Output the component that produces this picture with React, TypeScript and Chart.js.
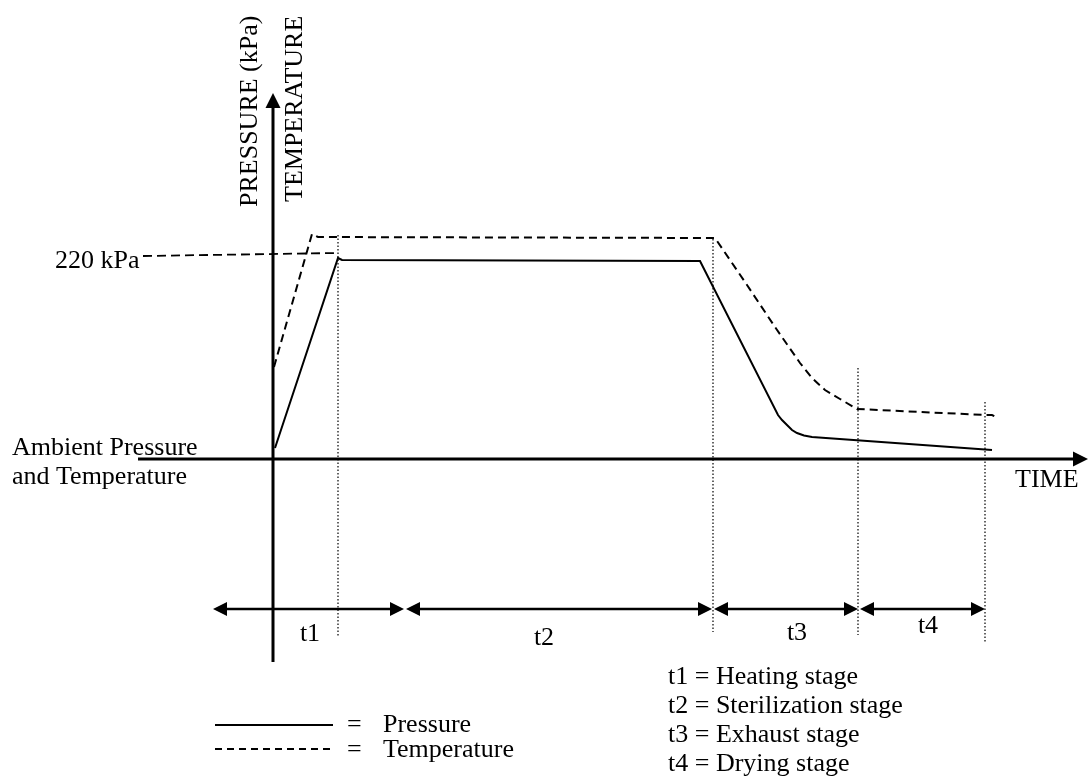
import React, { useEffect, useRef } from "react";
import { Chart, registerables } from "chart.js";

Chart.register(...registerables);

// ---- data (time units from the start of the cycle, level units above ambient) ----
const pressureTime = [2, 65, 69, 427, 505, 509, 514, 519, 524, 531, 539, 719];
const pressureLevel = [11, 201, 199, 198, 44, 39, 34, 29, 26, 23.5, 22, 9];

const temperatureTime = [1, 39, 45, 442, 474, 502, 527, 539, 552, 567, 584, 712, 719, 725];
const temperatureLevel = [92, 225, 222, 221, 174, 132, 96, 81, 69, 60, 50, 44, 44, 41];

const referenceTime = [-130, 64];
const referenceLevel = [203, 206];
const referenceLabel = "220 kPa";

const dividerTime = [65, 440, 585, 712];
const dividerTop = [224, 220, 91, 57];
const dividerBottom = [-178, -173, -176, -183];

const stageEdges = [-61, 132, 440, 586, 713];
const stageNames = ["t1", "t2", "t3", "t4"];
const stageDescriptions = ["Heating stage", "Sterilization stage", "Exhaust stage", "Drying stage"];

const axisTimeRange = [-135, 815];
const axisLevelRange = [-203, 366];

const seriesNames = ["Pressure", "Temperature"];

// ---- layout ----
const W = 1090;
const H = 780;
const FONT = "26px 'Liberation Serif', 'Times New Roman', serif";

const toPts = (xs: number[], ys: number[]) => xs.map((x, i) => ({ x, y: ys[i] }));

function head(ctx: CanvasRenderingContext2D, tx: number, ty: number, dx: number, dy: number, len: number, half: number) {
  const bx = tx - dx * len;
  const by = ty - dy * len;
  const px = -dy;
  const py = dx;
  ctx.beginPath();
  ctx.moveTo(tx, ty);
  ctx.lineTo(bx + px * half, by + py * half);
  ctx.lineTo(bx - px * half, by - py * half);
  ctx.closePath();
  ctx.fill();
}

const diagramPlugin = {
  id: "diagram",
  afterDatasetsDraw(chart: any) {
    const ctx: CanvasRenderingContext2D = chart.ctx;
    const xs = chart.scales.x;
    const ys = chart.scales.y;
    const X = (v: number) => xs.getPixelForValue(v);
    const Y = (v: number) => ys.getPixelForValue(v);
    ctx.save();
    ctx.fillStyle = "#000";
    ctx.strokeStyle = "#000";
    ctx.setLineDash([]);

    // vertical axis with arrow
    const x0 = X(0);
    ctx.lineWidth = 3;
    ctx.beginPath();
    ctx.moveTo(x0, Y(axisLevelRange[0]));
    ctx.lineTo(x0, Y(axisLevelRange[1]) + 12);
    ctx.stroke();
    head(ctx, x0, Y(axisLevelRange[1]), 0, -1, 15, 7.5);

    // horizontal time axis with arrow
    const y0 = Y(0);
    ctx.beginPath();
    ctx.moveTo(X(axisTimeRange[0]), y0);
    ctx.lineTo(X(axisTimeRange[1]) - 12, y0);
    ctx.stroke();
    head(ctx, X(axisTimeRange[1]), y0, 1, 0, 15, 7.5);

    // stage arrows
    const ya = Y(-150);
    ctx.lineWidth = 2.5;
    for (let i = 0; i < stageNames.length; i++) {
      const a = X(stageEdges[i]) + 1;
      const b = X(stageEdges[i + 1]) - 1;
      ctx.beginPath();
      ctx.moveTo(a + 10, ya);
      ctx.lineTo(b - 10, ya);
      ctx.stroke();
      head(ctx, a, ya, -1, 0, 14, 7);
      head(ctx, b, ya, 1, 0, 14, 7);
    }

    // texts
    ctx.font = FONT;
    ctx.textBaseline = "alphabetic";
    ctx.textAlign = "left";

    const stageLabelX = [310, 544, 797, 928];
    const stageLabelY = [641, 645, 640, 633];
    ctx.textAlign = "center";
    stageNames.forEach((s, i) => ctx.fillText(s, stageLabelX[i], stageLabelY[i]));
    ctx.textAlign = "left";

    ctx.fillText(referenceLabel, 55, 268);
    ctx.fillText("Ambient Pressure", 12, 455);
    ctx.fillText("and Temperature", 12, 484);
    ctx.fillText("TIME", 1015, 487);

    // rotated axis titles
    ctx.save();
    ctx.translate(257, 207);
    ctx.rotate(-Math.PI / 2);
    ctx.fillText("PRESSURE (kPa)", 0, 0);
    ctx.restore();
    ctx.save();
    ctx.translate(302, 202);
    ctx.rotate(-Math.PI / 2);
    ctx.fillText("TEMPERATURE", 0, 0);
    ctx.restore();

    // stage legend
    const legY = [684, 713, 742, 771];
    stageDescriptions.forEach((d, i) => {
      ctx.fillText(`${stageNames[i]} = ${d}`, 668, legY[i]);
    });

    // series legend
    ctx.lineWidth = 2;
    ctx.beginPath();
    ctx.moveTo(215, 725);
    ctx.lineTo(333, 725);
    ctx.stroke();
    ctx.setLineDash([7, 5]);
    ctx.beginPath();
    ctx.moveTo(215, 749);
    ctx.lineTo(333, 749);
    ctx.stroke();
    ctx.setLineDash([]);
    ctx.fillText("=", 347, 732);
    ctx.fillText(seriesNames[0], 383, 732);
    ctx.fillText("=", 347, 757);
    ctx.fillText(seriesNames[1], 383, 757);

    ctx.restore();
  },
};

export default function App() {
  const ref = useRef<HTMLCanvasElement | null>(null);
  useEffect(() => {
    if (!ref.current) return;
    const dividerSets = dividerTime.map((t, i) => ({
      data: [
        { x: t, y: dividerTop[i] },
        { x: t, y: dividerBottom[i] },
      ],
      borderColor: "#000",
      borderWidth: 1.2,
      borderDash: [1.5, 2],
      pointRadius: 0,
      showLine: true,
      fill: false,
    }));
    const chart = new Chart(ref.current, {
      type: "scatter",
      data: {
        datasets: [
          ...dividerSets,
          {
            label: "reference",
            data: toPts(referenceTime, referenceLevel),
            borderColor: "#000",
            borderWidth: 1.8,
            borderDash: [9, 5],
            pointRadius: 0,
            showLine: true,
          },
          {
            label: seriesNames[1],
            data: toPts(temperatureTime, temperatureLevel),
            borderColor: "#000",
            borderWidth: 2,
            borderDash: [8, 5],
            pointRadius: 0,
            showLine: true,
            tension: 0,
          },
          {
            label: seriesNames[0],
            data: toPts(pressureTime, pressureLevel),
            borderColor: "#000",
            borderWidth: 2,
            pointRadius: 0,
            showLine: true,
            tension: 0,
          },
        ] as any,
      },
      options: {
        animation: false,
        responsive: false,
        devicePixelRatio: 1,
        layout: { padding: 0 },
        plugins: { legend: { display: false }, tooltip: { enabled: false } },
        scales: {
          x: { type: "linear", min: -273, max: 817, display: false },
          y: { type: "linear", min: -321, max: 459, display: false },
        },
      },
      plugins: [diagramPlugin],
    });
    return () => chart.destroy();
  }, []);
  return (
    <div style={{ position: "absolute", left: 0, top: 0, width: W, height: H, background: "#fff" }}>
      <canvas ref={ref} width={W} height={H} style={{ display: "block", width: W, height: H }} />
    </div>
  );
}
